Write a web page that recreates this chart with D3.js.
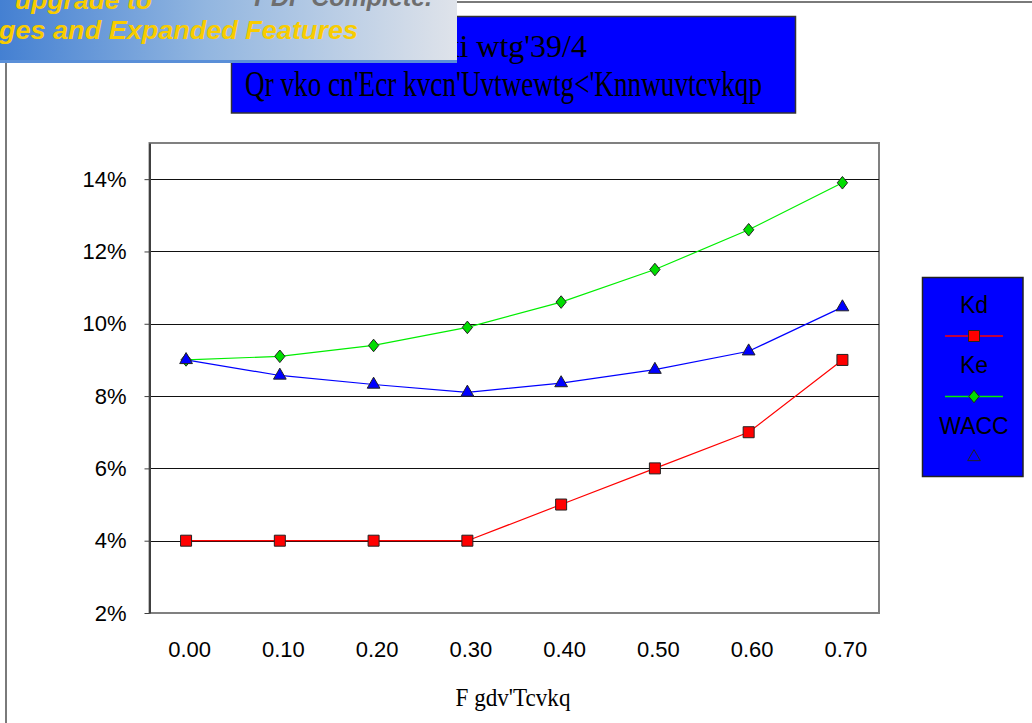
<!DOCTYPE html>
<html>
<head>
<meta charset="utf-8">
<script src="https://cdn.jsdelivr.net/npm/d3@7"></script>
<style>
  html, body { margin: 0; padding: 0; background: #fff; }
  svg { display: block; }
</style>
</head>
<body>
<script>
// ---- data ----
const categories = ["0.00", "0.10", "0.20", "0.30", "0.40", "0.50", "0.60", "0.70"];
const kdValues   = [0.040, 0.040, 0.040, 0.040, 0.050, 0.060, 0.070, 0.090];
const keValues   = [0.090, 0.091, 0.094, 0.099, 0.106, 0.115, 0.126, 0.139];
const waccValues = [0.090, 0.0857, 0.0832, 0.0810, 0.0836, 0.0873, 0.0924, 0.1046];
const yTickValues = [0.02, 0.04, 0.06, 0.08, 0.10, 0.12, 0.14];
const seriesNames = ["Kd", "Ke", "WACC"];
const titleLines = ["Hki wtg'39/4", "Qr vko cn'Ecr kvcn'Uvtwewtg<'Knnwuvtcvkqp"];
const xAxisTitle = "F gdv'Tcvkq";

const W = 1032, H = 723;
const svg = d3.select("body").append("svg").attr("width", W).attr("height", H);

// chart area border
svg.append("rect").attr("x", 6).attr("y", 2).attr("width", W + 20).attr("height", H + 20)
  .attr("fill", "#fff").attr("stroke", "#7a7a7a").attr("stroke-width", 2);

// plot geometry
const plot = { x0: 149.5, x1: 879, y0: 143, y1: 613 };
const x = d3.scalePoint().domain(categories).range([plot.x0, plot.x1]).padding(0.39);
const y = d3.scaleLinear().domain([0.02, 0.15]).range([plot.y1, plot.y0]);

// plot border
svg.append("rect").attr("x", plot.x0).attr("y", plot.y0)
  .attr("width", plot.x1 - plot.x0).attr("height", plot.y1 - plot.y0)
  .attr("fill", "#fff").attr("stroke", "#808080").attr("stroke-width", 2);

// gridlines
svg.append("g").selectAll("line").data(yTickValues.slice(1)).join("line")
  .attr("x1", plot.x0).attr("x2", plot.x1)
  .attr("y1", d => Math.round(y(d)) + 0.5).attr("y2", d => Math.round(y(d)) + 0.5)
  .attr("stroke", "#111").attr("stroke-width", 1);

// y axis
const yAxis = d3.axisLeft(y).tickValues(yTickValues).tickFormat(d3.format(".0%"))
  .tickSizeInner(5).tickSizeOuter(0).tickPadding(18);
const yg = svg.append("g").attr("transform", `translate(${plot.x0},0)`).call(yAxis);
yg.select(".domain").attr("stroke", "#404040").attr("stroke-width", 2);
yg.selectAll(".tick line").attr("stroke", "#404040");
yg.selectAll("text").attr("font-family", "Liberation Sans, Arial, sans-serif")
  .attr("font-size", 22).attr("fill", "#000");

// x axis (labels only)
const xAxis = d3.axisBottom(x).tickSize(0).tickPadding(0);
const xg = svg.append("g").attr("transform", `translate(3,${plot.y1})`).call(xAxis);
xg.select(".domain").remove();
xg.selectAll("text").attr("font-family", "Liberation Sans, Arial, sans-serif")
  .attr("font-size", 22).attr("fill", "#000").attr("dy", null).attr("y", 44);

// x axis title
svg.append("text").attr("x", 513).attr("y", 706)
  .attr("text-anchor", "middle")
  .attr("font-family", "Liberation Serif, Times New Roman, serif").attr("font-size", 25)
  .attr("textLength", 115).attr("lengthAdjust", "spacingAndGlyphs")
  .text(xAxisTitle);

// marker types
const diamondType = {
  draw(ctx, size) {
    const h = Math.sqrt(size) * 0.6, w = h * 0.82;
    ctx.moveTo(0, -h); ctx.lineTo(w, 0); ctx.lineTo(0, h); ctx.lineTo(-w, 0); ctx.closePath();
  }
};
const series = [
  { name: "Kd", values: kdValues, color: "#ff0000", fill: "#ff0000", symbol: d3.symbolSquare, size: 121 },
  { name: "Ke", values: keValues, color: "#00ee00", fill: "#00dd00", symbol: diamondType, size: 110 },
  { name: "WACC", values: waccValues, color: "#0000ff", fill: "#0000ff", symbol: d3.symbolTriangle, size: 70 }
];

const line = d3.line().x((d, i) => x(categories[i])).y(d => y(d));
const gSeries = svg.append("g");
series.forEach(s => {
  gSeries.append("path").datum(s.values).attr("d", line)
    .attr("fill", "none").attr("stroke", s.color).attr("stroke-width", 1.2);
});
series.forEach(s => {
  gSeries.append("g").selectAll("path").data(s.values).join("path")
    .attr("transform", (d, i) => `translate(${x(categories[i])},${y(d)})`)
    .attr("d", d3.symbol(s.symbol, s.size))
    .attr("fill", s.fill).attr("stroke", "#222").attr("stroke-width", 1);
});

// title box
svg.append("rect").attr("x", 231.5).attr("y", 16.5).attr("width", 564).attr("height", 96.5)
  .attr("fill", "#0000ff").attr("stroke", "#333").attr("stroke-width", 1.5);
svg.append("text").attr("x", 587).attr("y", 57).attr("text-anchor", "end")
  .attr("font-family", "Liberation Serif, Times New Roman, serif").attr("font-size", 32)
  .text(titleLines[0]);
svg.append("text").attr("x", 503.5).attr("y", 96).attr("text-anchor", "middle")
  .attr("font-family", "Liberation Serif, Times New Roman, serif").attr("font-size", 35)
  .attr("textLength", 517).attr("lengthAdjust", "spacingAndGlyphs")
  .text(titleLines[1]);

// legend
const lg = svg.append("g");
lg.append("rect").attr("x", 922.5).attr("y", 277.5).attr("width", 100.5).attr("height", 199)
  .attr("fill", "#0000ff").attr("stroke", "#222").attr("stroke-width", 1.5);
const legTextY = [313, 373, 434];
const legMarkY = [336, 396.5, 457];
series.forEach((s, i) => {
  lg.append("text").attr("x", 974).attr("y", legTextY[i]).attr("text-anchor", "middle")
    .attr("font-family", "Liberation Sans, Arial, sans-serif").attr("font-size", 23)
    .attr("fill", "#000").text(seriesNames[i]);
  lg.append("line").attr("x1", 945).attr("x2", 1003).attr("y1", legMarkY[i]).attr("y2", legMarkY[i])
    .attr("stroke", s.color).attr("stroke-width", 1.5);
  lg.append("path").attr("transform", `translate(974,${legMarkY[i]})`)
    .attr("d", d3.symbol(s.symbol, s.size)).attr("fill", s.fill)
    .attr("stroke", "#222").attr("stroke-width", 1);
});

// PDF banner overlay
const defs = svg.append("defs");
const grad = defs.append("linearGradient").attr("id", "bannerGrad")
  .attr("x1", "0%").attr("x2", "100%").attr("y1", "0%").attr("y2", "0%");
grad.append("stop").attr("offset", "0%").attr("stop-color", "#4480d2");
grad.append("stop").attr("offset", "45%").attr("stop-color", "#92b6e0");
grad.append("stop").attr("offset", "100%").attr("stop-color", "#dfe3ea");
const bn = svg.append("g");
bn.append("rect").attr("x", 0).attr("y", 0).attr("width", 457).attr("height", 62)
  .attr("fill", "url(#bannerGrad)");
bn.append("rect").attr("x", 0).attr("y", 60).attr("width", 457).attr("height", 3)
  .attr("fill", "#5a8fd8");
bn.append("text").attr("x", 15).attr("y", 9)
  .attr("font-family", "Liberation Sans, Arial, sans-serif").attr("font-size", 26)
  .attr("font-weight", "bold").attr("font-style", "italic").attr("fill", "#f8cc00")
  .attr("textLength", 137).attr("lengthAdjust", "spacingAndGlyphs")
  .text("upgrade to");
bn.append("text").attr("x", 432).attr("y", 6).attr("text-anchor", "end")
  .attr("font-family", "Liberation Sans, Arial, sans-serif").attr("font-size", 25)
  .attr("font-weight", "bold").attr("font-style", "italic").attr("fill", "#6e6e6e")
  .text("PDF Complete.");
bn.append("text").attr("x", -1).attr("y", 39)
  .attr("font-family", "Liberation Sans, Arial, sans-serif").attr("font-size", 26)
  .attr("font-weight", "bold").attr("font-style", "italic").attr("fill", "#f8cc00")
  .attr("textLength", 359).attr("lengthAdjust", "spacingAndGlyphs")
  .text("ges and Expanded Features");
</script>
</body>
</html>
